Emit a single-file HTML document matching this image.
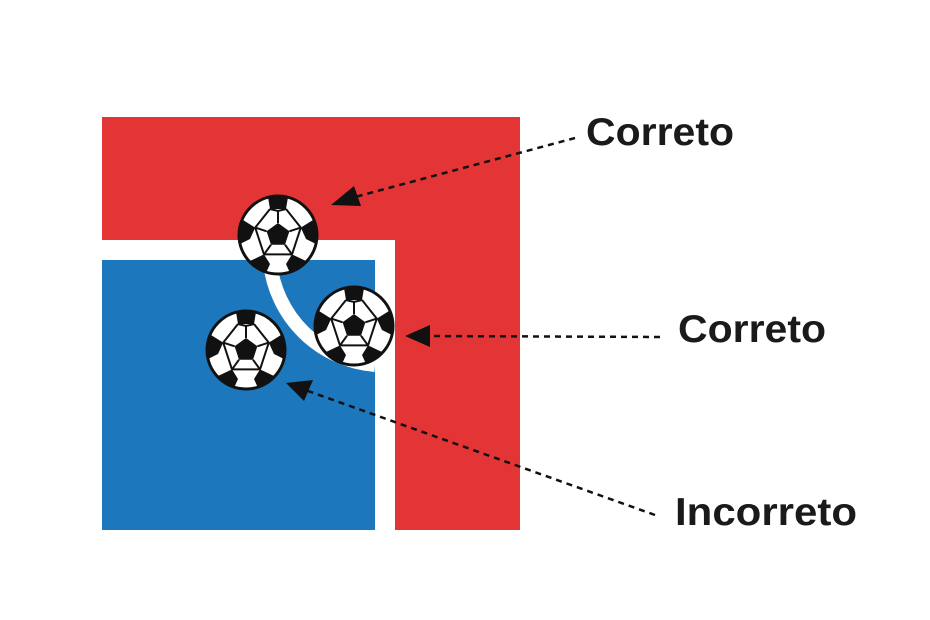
<!DOCTYPE html>
<html><head><meta charset="utf-8"><style>
html,body{margin:0;padding:0;background:#fff;}
svg{display:block;}
text{font-family:"Liberation Sans",sans-serif;font-weight:bold;fill:#1a1a1a;}
</style></head><body>
<svg width="930" height="620" viewBox="0 0 930 620" xmlns="http://www.w3.org/2000/svg">
<defs>
<g id="ball">
<circle r="40" fill="#fff"/>
<polygon points="0,-12 11.4,-3.7 7,9.7 -7,9.7 -11.4,-3.7" fill="#111"/>
<g stroke="#111" stroke-width="2" fill="none">
<line x1="0" y1="-12" x2="0" y2="-24"/>
<line x1="11.4" y1="-3.7" x2="22.8" y2="-7.4"/>
<line x1="7" y1="9.7" x2="14" y2="19.4"/>
<line x1="-7" y1="9.7" x2="-14" y2="19.4"/>
<line x1="-11.4" y1="-3.7" x2="-22.8" y2="-7.4"/>
<polyline points="-8,-26 0,-24 8,-26"/>
<line x1="8" y1="-26" x2="22.8" y2="-7.4"/>
<line x1="-8" y1="-26" x2="-22.8" y2="-7.4"/>
<line x1="22.8" y1="-7.4" x2="14" y2="19.4"/>
<line x1="-22.8" y1="-7.4" x2="-14" y2="19.4"/>
<line x1="14" y1="19.4" x2="-14" y2="19.4"/>
</g>
<g fill="#111">
<polygon points="-8,-26 8,-26 10,-38 0,-40 -10,-38"/>
<polygon points="22.8,-7.4 28,4 38,9 39.5,-3 35,-15"/>
<polygon points="14,19.4 8,29 12,38 22,33 28,26"/>
<polygon points="-14,19.4 -8,29 -12,38 -22,33 -28,26"/>
<polygon points="-22.8,-7.4 -28,4 -38,9 -39.5,-3 -35,-15"/>
</g>
<circle r="39" fill="none" stroke="#111" stroke-width="3"/>
</g>
</defs>
<rect x="102" y="117" width="418" height="413" fill="#e33535"/>
<rect x="102" y="240" width="293" height="290" fill="#fff"/>
<rect x="102" y="260" width="273" height="270" fill="#1d77bd"/>
<path d="M270 262 A 115 115 0 0 0 375 365" stroke="#fff" stroke-width="14" fill="none"/>
<use href="#ball" x="278" y="235"/>
<use href="#ball" x="354" y="326"/>
<use href="#ball" x="246" y="350"/>
<g stroke="#111" stroke-width="2.5" stroke-dasharray="6,5" fill="none">
<line x1="575" y1="138" x2="355" y2="197"/>
<line x1="660" y1="337" x2="428" y2="336"/>
<line x1="655" y1="515" x2="308" y2="391"/>
</g>
<polygon points="331,205 354,186 361,206" fill="#111"/>
<polygon points="405,336 430,325 430,347" fill="#111"/>
<polygon points="286,383 313,380 304,401" fill="#111"/>
<text x="586" y="145" font-size="39" textLength="148" lengthAdjust="spacingAndGlyphs">Correto</text>
<text x="678" y="342" font-size="39" textLength="148" lengthAdjust="spacingAndGlyphs">Correto</text>
<text x="675" y="525" font-size="39" textLength="182" lengthAdjust="spacingAndGlyphs">Incorreto</text>
</svg>
</body></html>
